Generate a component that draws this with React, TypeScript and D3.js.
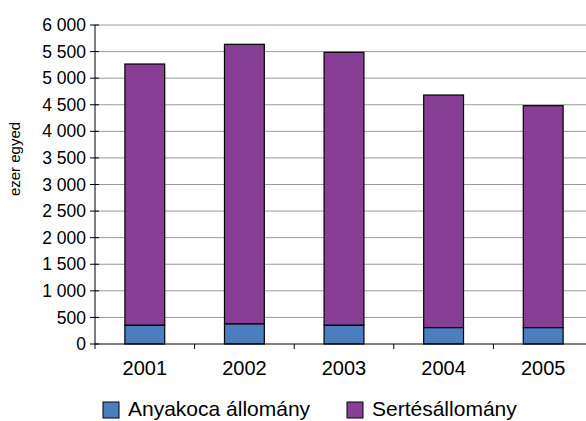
import * as d3 from "d3"

const years = ["2001", "2002", "2003", "2004", "2005"]
// anyakoca (sows), thousand head
const sows = [352, 376, 352, 307, 307]
// remaining pig stock stacked on top, thousand head
const pigs = [4914, 5261, 5134, 4376, 4175]
const yTicks = [0, 500, 1000, 1500, 2000, 2500, 3000, 3500, 4000, 4500, 5000, 5500, 6000]
const seriesNames = ["Anyakoca állomány", "Sertésállomány"]
const colors = ["#4a7ebf", "#873e94"]

const W = 586
const H = 421
const M = { top: 25, left: 95, right: -7, bottom: 77 }

const fmt = (v: number) => {
  const s = String(v)
  return s.length > 3 ? s.slice(0, s.length - 3) + "\u00a0" + s.slice(-3) : s
}

export default function App() {
  const x = d3.scaleBand().domain(years).range([M.left, W - M.right]).paddingInner(0.6).paddingOuter(0.3)
  const y = d3.scaleLinear().domain([0, 6000]).range([H - M.bottom, M.top])
  const step = x.step()
  const font = "'Liberation Sans', Arial, sans-serif"

  const stacked = years.map((yr, i) => ({ yr, a: sows[i], b: sows[i] + pigs[i] }))

  return (
    <svg width={W} height={H} style={{ position: "absolute", left: 0, top: 0 }} fontFamily={font}>
      <rect width={W} height={H} fill="#fff" />
      {yTicks.map((t) => (
        <g key={t}>
          {t > 0 && <line x1={M.left} x2={W - M.right} y1={y(t)} y2={y(t)} stroke="#9a9a9a" strokeWidth={1} />}
          <line x1={M.left - 5} x2={M.left + 4} y1={y(t)} y2={y(t)} stroke="#000" />
          <text x={M.left - 9} y={y(t)} dy="0.35em" textAnchor="end" fontSize={17.5} fill="#000">
            {fmt(t)}
          </text>
        </g>
      ))}
      {stacked.map((d) => (
        <g key={d.yr}>
          <rect x={x(d.yr)!} width={x.bandwidth()} y={y(d.b)} height={y(d.a) - y(d.b)} fill={colors[1]} stroke="#000" strokeWidth={1.2} />
          <rect x={x(d.yr)!} width={x.bandwidth()} y={y(d.a)} height={y(0) - y(d.a)} fill={colors[0]} stroke="#000" strokeWidth={1.2} />
          <text x={x(d.yr)! + x.bandwidth() / 2} y={y(0) + 31} textAnchor="middle" fontSize={20} fill="#000">
            {d.yr}
          </text>
        </g>
      ))}
      {years.map((yr, i) => (
        <line key={yr} x1={M.left + i * step} x2={M.left + i * step} y1={y(0)} y2={y(0) + 5} stroke="#000" />
      ))}
      <line x1={M.left} x2={W - M.right} y1={y(0)} y2={y(0)} stroke="#000" />
      <line x1={M.left} x2={M.left} y1={M.top} y2={y(0)} stroke="#000" />
      <text transform={`translate(20,159) rotate(-90)`} textAnchor="middle" fontSize={15} fill="#000">
        ezer egyed
      </text>
      {seriesNames.map((n, i) => {
        const lx = [103, 347][i]
        return (
          <g key={n}>
            <rect x={lx} y={402} width={16} height={16} fill={colors[i]} stroke="#000" strokeWidth={1} />
            <text x={lx + 25} y={416} fontSize={21} fill="#000">
              {n}
            </text>
          </g>
        )
      })}
    </svg>
  )
}
